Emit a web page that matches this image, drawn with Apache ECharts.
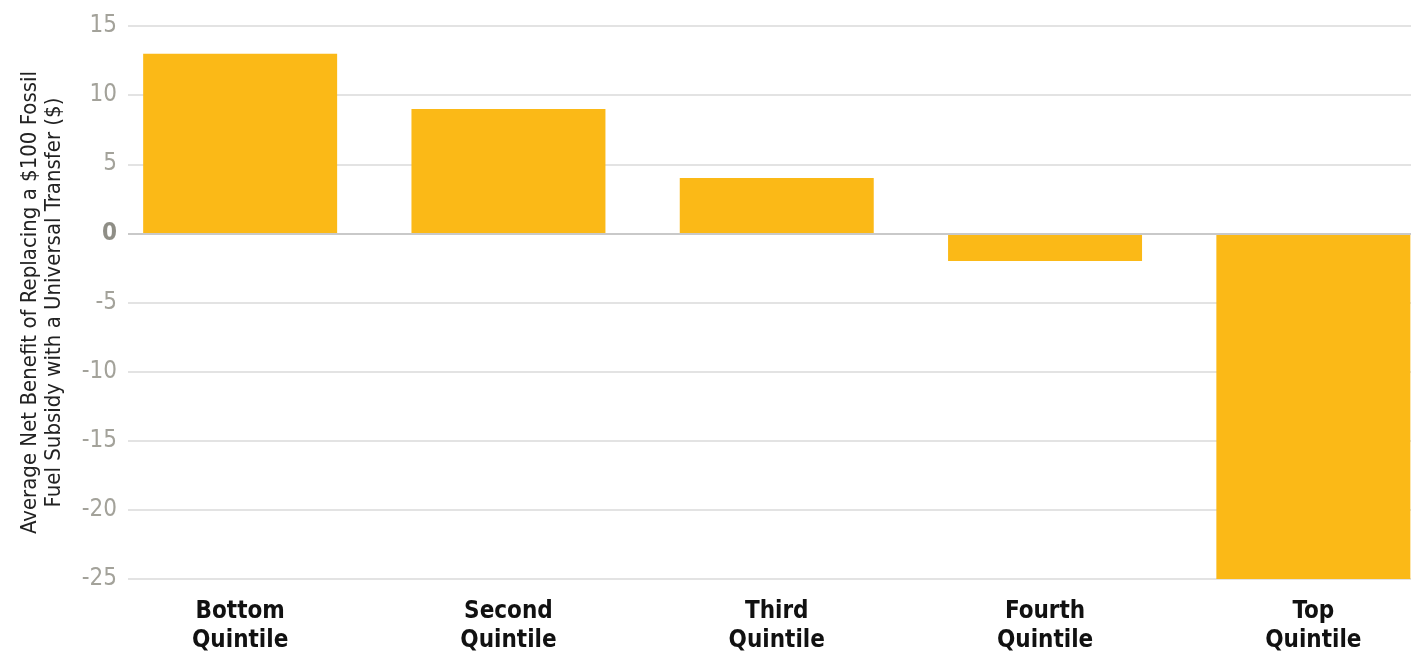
<!DOCTYPE html>
<html>
<head>
<meta charset="utf-8">
<script src="https://cdn.jsdelivr.net/npm/echarts@6/dist/echarts.min.js"></script>
<style>
html,body{margin:0;padding:0;background:#fff;}
#c{width:1411px;height:652px;}
</style>
</head>
<body>
<div id="c"></div>
<script>
const categories = ['Bottom\nQuintile', 'Second\nQuintile', 'Third\nQuintile', 'Fourth\nQuintile', 'Top\nQuintile'];
const values = [13, 9, 4, -2, -25];
const yMin = -25, yMax = 15, yStep = 5;
const yTitle = 'Average Net Benefit of Replacing a $100 Fossil\nFuel Subsidy with a Universal Transfer ($)';

const FONT = "'Liberation Sans Narrow', 'DejaVu Sans Condensed', 'Roboto', sans-serif";
const chart = echarts.init(document.getElementById('c'), null, {renderer: 'canvas'});
chart.setOption({
  animation: false,
  backgroundColor: '#ffffff',
  grid: [
    {left: 128, right: 0, top: 26, bottom: 73, outerBoundsMode: 'none', containLabel: false},
    {left: 106, width: 1341.5, top: 26, bottom: 73, outerBoundsMode: 'none', containLabel: false}
  ],
  xAxis: [
    {gridIndex: 0, type: 'category', data: categories, show: false},
    {gridIndex: 1, type: 'category', data: categories,
     axisLine: {show: false}, axisTick: {show: false},
     axisLabel: {fontFamily: FONT, fontSize: 24, fontWeight: 'bold', color: '#111', lineHeight: 29, margin: 18}}
  ],
  yAxis: [
    {gridIndex: 0, type: 'value', min: yMin, max: yMax, interval: yStep,
     name: yTitle, nameLocation: 'middle', nameRotate: 90, nameGap: 62,
     nameTextStyle: {fontFamily: FONT, fontSize: 22, color: '#222', lineHeight: 24},
     axisLine: {show: false}, axisTick: {show: false},
     axisLabel: {fontFamily: FONT, fontSize: 24, margin: 11,
       formatter: v => v === 0 ? '{z|0}' : String(v),
       color: '#a3a29a',
       rich: {z: {fontFamily: FONT, fontSize: 24, fontWeight: 'bold', color: '#8f8e86'}}},
     splitLine: {lineStyle: {color: '#dadada', width: 1.5}}},
    {gridIndex: 1, type: 'value', min: yMin, max: yMax, interval: yStep, show: false,
     splitLine: {show: false}}
  ],
  series: [
    {type: 'bar', xAxisIndex: 1, yAxisIndex: 1, data: values, barCategoryGap: '27.7%',
     itemStyle: {color: '#FBB917'},
     markLine: {silent: true, symbol: 'none', label: {show: false},
       lineStyle: {color: '#c9c9c9', width: 2, type: 'solid'},
       data: [[{coord: [0, 0], x: 128}, {coord: [4, 0], x: 1411}]]}}
  ]
});
</script>
</body>
</html>
